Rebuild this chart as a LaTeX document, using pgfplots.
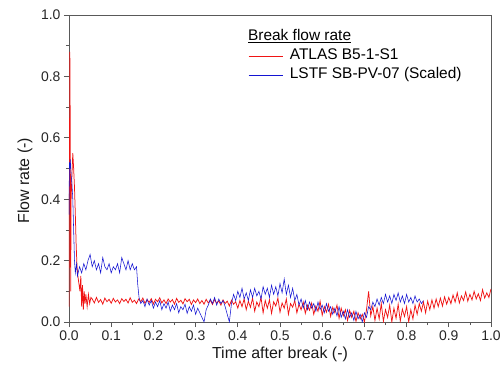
\documentclass[border=0pt]{standalone}
\usepackage{pgfplots}
\pgfplotsset{compat=1.18}
\usepackage{fontspec}
\setmainfont{Liberation Sans}
\definecolor{myred}{RGB}{240,20,20}
\definecolor{myblue}{RGB}{20,20,210}
\pgfplotstableread{
x y
0.000 0.05
0.002 0.88
0.003 0.62
0.004 0.10
0.005 0.40
0.007 0.48
0.009 0.55
0.011 0.50
0.013 0.44
0.015 0.35
0.017 0.25
0.019 0.18
0.021 0.15
0.023 0.13
0.026 0.10
0.028 0.15
0.030 0.05
0.032 0.12
0.034 0.04
0.036 0.10
0.038 0.06
0.040 0.09
0.043 0.05
0.046 0.09
0.049 0.06
0.052 0.08
0.055 0.075
0.060 0.062
0.065 0.080
0.070 0.064
0.075 0.073
0.080 0.058
0.085 0.078
0.090 0.066
0.095 0.074
0.100 0.061
0.105 0.077
0.110 0.065
0.115 0.072
0.120 0.060
0.125 0.076
0.130 0.067
0.135 0.074
0.140 0.062
0.145 0.079
0.150 0.064
0.155 0.071
0.160 0.060
0.165 0.075
0.170 0.066
0.175 0.078
0.180 0.061
0.185 0.073
0.190 0.064
0.195 0.076
0.200 0.059
0.205 0.074
0.210 0.066
0.215 0.079
0.220 0.062
0.225 0.072
0.230 0.060
0.235 0.075
0.240 0.065
0.245 0.073
0.250 0.058
0.255 0.077
0.260 0.064
0.265 0.071
0.270 0.059
0.275 0.076
0.280 0.066
0.285 0.074
0.290 0.057
0.295 0.072
0.300 0.063
0.305 0.075
0.310 0.060
0.315 0.070
0.320 0.058
0.325 0.074
0.330 0.062
0.335 0.071
0.340 0.057
0.345 0.073
0.350 0.061
0.355 0.069
0.360 0.055
0.365 0.072
0.370 0.060
0.375 0.068
0.380 0.052
0.385 0.071
0.390 0.058
0.395 0.066
0.400 0.045
0.405 0.070
0.410 0.050
0.415 0.075
0.420 0.040
0.425 0.068
0.430 0.048
0.435 0.078
0.440 0.035
0.445 0.065
0.450 0.050
0.455 0.080
0.460 0.030
0.465 0.070
0.470 0.045
0.475 0.072
0.480 0.028
0.485 0.066
0.490 0.052
0.495 0.078
0.500 0.032
0.505 0.062
0.510 0.045
0.515 0.075
0.520 0.025
0.525 0.060
0.530 0.048
0.535 0.070
0.540 0.030
0.545 0.058
0.550 0.040
0.555 0.065
0.560 0.028
0.565 0.055
0.570 0.038
0.575 0.062
0.580 0.025
0.585 0.052
0.590 0.035
0.595 0.068
0.600 0.022
0.605 0.050
0.610 0.032
0.615 0.058
0.620 0.018
0.625 0.048
0.630 0.030
0.635 0.055
0.640 0.012
0.645 0.045
0.650 0.020
0.655 0.040
0.660 0.005
0.665 0.038
0.670 0.015
0.675 0.035
0.680 0.002
0.685 0.030
0.690 0.010
0.695 0.025
0.700 0.000
0.705 0.040
0.710 0.100
0.715 0.020
0.720 0.050
0.725 0.005
0.730 0.045
0.735 0.010
0.740 0.060
0.745 0.002
0.750 0.040
0.755 0.015
0.760 0.055
0.765 0.000
0.770 0.045
0.775 0.012
0.780 0.058
0.785 0.003
0.790 0.042
0.795 0.018
0.800 0.050
0.805 0.000
0.810 0.040
0.815 0.010
0.820 0.055
0.825 0.025
0.830 0.060
0.835 0.035
0.840 0.065
0.845 0.030
0.850 0.068
0.855 0.040
0.860 0.072
0.865 0.045
0.870 0.075
0.875 0.050
0.880 0.078
0.885 0.052
0.890 0.082
0.895 0.058
0.900 0.080
0.905 0.060
0.910 0.088
0.915 0.065
0.920 0.095
0.925 0.062
0.930 0.085
0.935 0.070
0.940 0.098
0.945 0.068
0.950 0.090
0.955 0.072
0.960 0.100
0.965 0.075
0.970 0.092
0.975 0.070
0.980 0.105
0.985 0.078
0.990 0.095
0.995 0.080
1.000 0.108
}\atlas
\pgfplotstableread{
x y
0.000 0.35
0.001 0.52
0.002 0.50
0.003 0.53
0.005 0.48
0.007 0.45
0.009 0.40
0.011 0.30
0.013 0.20
0.015 0.16
0.018 0.19
0.020 0.15
0.025 0.18
0.030 0.16
0.035 0.19
0.040 0.17
0.045 0.20
0.050 0.22
0.055 0.18
0.060 0.20
0.065 0.17
0.070 0.19
0.075 0.16
0.080 0.21
0.085 0.18
0.090 0.17
0.095 0.19
0.100 0.16
0.105 0.18
0.110 0.17
0.115 0.19
0.120 0.16
0.125 0.21
0.130 0.19
0.135 0.17
0.140 0.20
0.145 0.17
0.150 0.19
0.155 0.17
0.160 0.18
0.163 0.12
0.166 0.08
0.170 0.06
0.175 0.07
0.180 0.05
0.185 0.075
0.190 0.055
0.195 0.07
0.200 0.045
0.205 0.065
0.210 0.05
0.215 0.07
0.220 0.04
0.225 0.06
0.230 0.045
0.235 0.065
0.240 0.035
0.245 0.055
0.250 0.04
0.255 0.06
0.260 0.03
0.265 0.05
0.270 0.04
0.275 0.058
0.280 0.028
0.285 0.05
0.290 0.035
0.295 0.055
0.300 0.025
0.305 0.045
0.310 0.03
0.315 0.015
0.320 0.0
0.325 0.04
0.330 0.055
0.335 0.075
0.340 0.06
0.345 0.08
0.350 0.055
0.355 0.075
0.360 0.06
0.365 0.07
0.370 0.05
0.375 0.025
0.380 0.0
0.385 0.06
0.390 0.09
0.395 0.07
0.400 0.10
0.405 0.08
0.410 0.11
0.415 0.075
0.420 0.095
0.425 0.07
0.430 0.105
0.435 0.08
0.440 0.11
0.445 0.085
0.450 0.10
0.455 0.075
0.460 0.115
0.465 0.09
0.470 0.11
0.475 0.08
0.480 0.12
0.485 0.09
0.490 0.115
0.495 0.085
0.500 0.125
0.505 0.095
0.510 0.14
0.515 0.09
0.520 0.12
0.525 0.08
0.530 0.11
0.535 0.07
0.540 0.09
0.545 0.055
0.550 0.075
0.555 0.045
0.560 0.07
0.565 0.04
0.570 0.065
0.575 0.045
0.580 0.06
0.585 0.035
0.590 0.065
0.595 0.04
0.600 0.055
0.605 0.03
0.610 0.06
0.615 0.035
0.620 0.05
0.625 0.025
0.630 0.045
0.635 0.02
0.640 0.05
0.645 0.015
0.650 0.035
0.655 0.01
0.660 0.04
0.665 0.015
0.670 0.03
0.675 0.005
0.680 0.035
0.685 0.01
0.690 0.025
0.695 0.0
0.700 0.03
0.705 0.015
0.710 0.05
0.715 0.04
0.720 0.065
0.725 0.05
0.730 0.075
0.735 0.055
0.740 0.08
0.745 0.06
0.750 0.09
0.755 0.065
0.760 0.085
0.765 0.06
0.770 0.09
0.775 0.07
0.780 0.095
0.785 0.065
0.790 0.085
0.795 0.06
0.800 0.09
0.805 0.065
0.810 0.08
0.815 0.06
0.820 0.085
0.825 0.065
0.830 0.075
0.835 0.06
0.840 0.07
}\lstf
\begin{document}
\begin{tikzpicture}
\begin{axis}[
  scale only axis,
  width=422bp, height=307bp,
  xmin=0, xmax=1, ymin=0, ymax=1,
  xtick={0,0.1,...,1.0}, ytick={0,0.2,...,1.0},
  minor x tick num=1, minor y tick num=1,
  tick align=outside, tick pos=left,
  major tick length=5bp, minor tick length=3bp,
  axis line style={gray!70!black, line width=0.9pt},
  every tick/.style={gray!70!black, line width=0.7pt},
  /pgf/number format/assume math mode=true,
  xticklabel style={/pgf/number format/.cd, fixed, fixed zerofill, precision=1},
  yticklabel style={/pgf/number format/.cd, fixed, fixed zerofill, precision=1},
  tick label style={font=\fontsize{14}{16}\selectfont, text=black!85},
  label style={font=\fontsize{16}{18}\selectfont, text=black!90},
  xlabel={Time after break (-)},
  ylabel={Flow rate (-)},
  xlabel style={at={(axis description cs:0.5,-0.107)}, anchor=center},
  ylabel style={at={(axis description cs:-0.104,0.46)}, anchor=center},
  legend cell align=left,
  legend style={draw=none, fill=none, at={(axis description cs:0.424,0.891)}, anchor=north west,
    font=\fontsize{15.5}{17}\selectfont, inner sep=0pt, row sep=4bp, column sep=7bp,
    nodes={inner sep=0pt, text height=11bp, text depth=4bp}},
  legend image code/.code={\draw[#1] (0bp,0bp) -- (34bp,0bp);},
]
\addplot[myred, line width=0.75pt] table[x=x,y=y] {\atlas};
\addlegendentry{ATLAS B5-1-S1}
\addplot[myblue, line width=0.55pt] table[x=x,y=y] {\lstf};
\addlegendentry{LSTF SB-PV-07 (Scaled)}
\node[anchor=base west, font=\fontsize{15.5}{17}\selectfont, inner sep=0pt] at (axis description cs:0.424,0.917) {\underline{Break flow rate}};
\end{axis}
\pgfresetboundingbox
\path (-69bp,-48bp) rectangle (433bp,322bp);
\end{tikzpicture}
\end{document}
